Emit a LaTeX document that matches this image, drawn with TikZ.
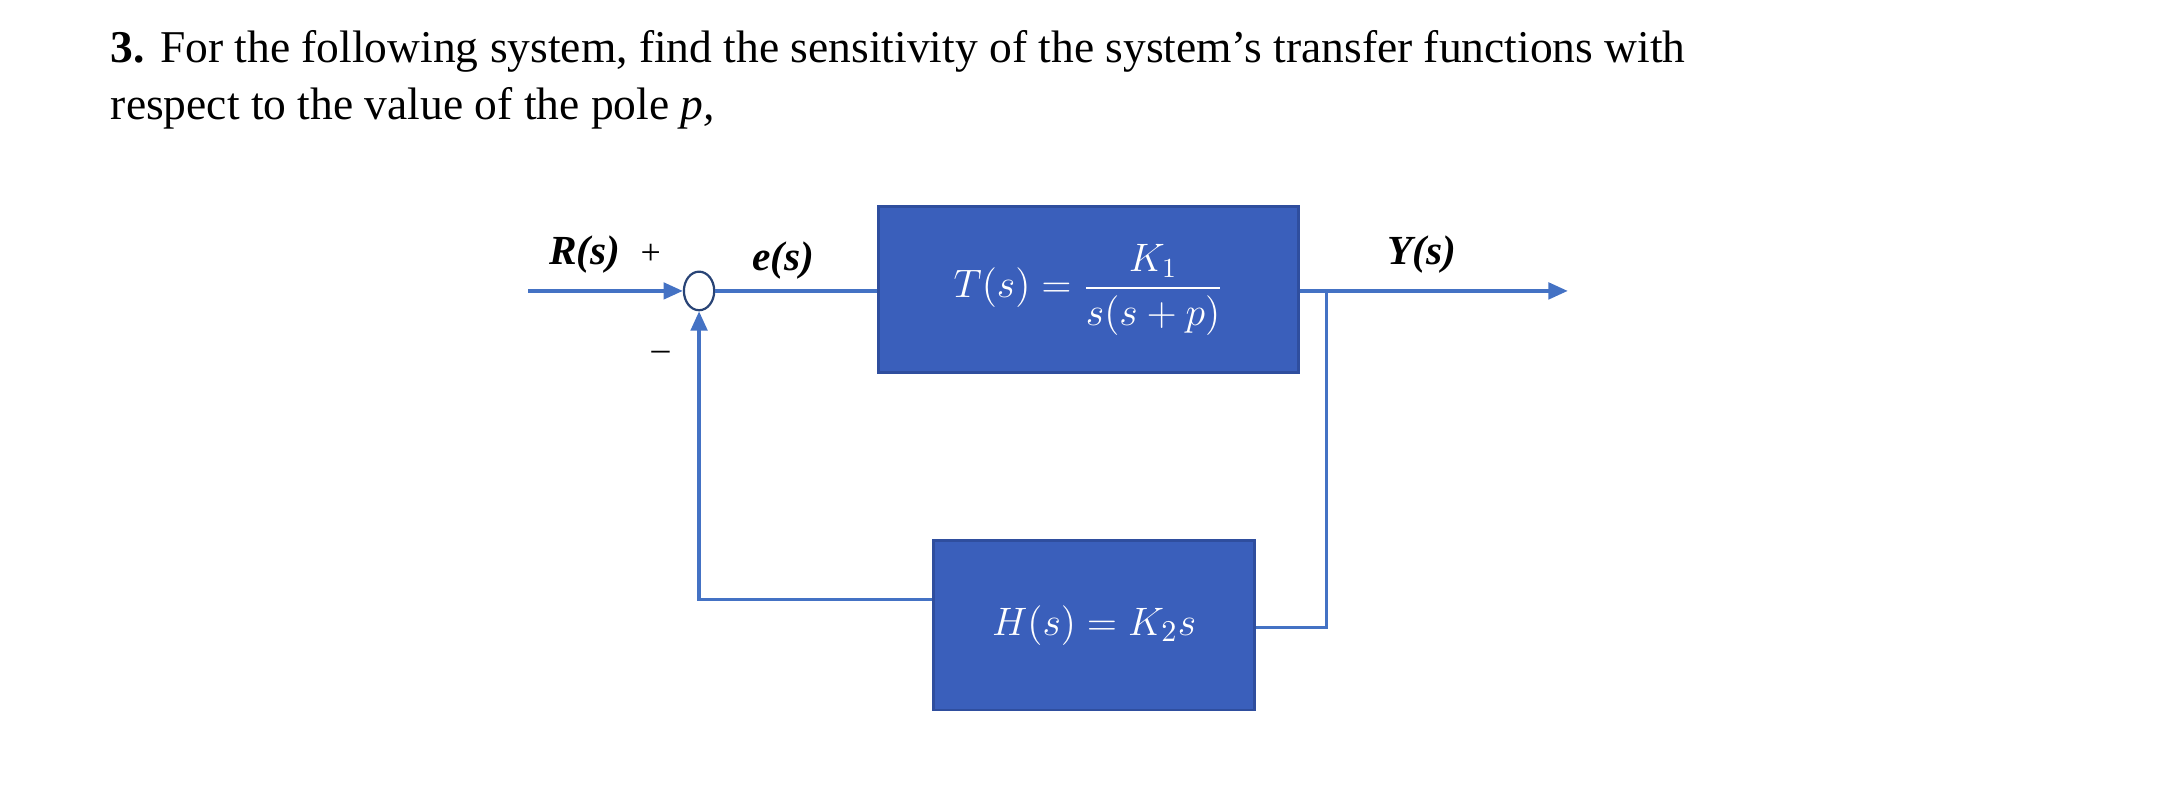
\documentclass[tikz,border=0pt]{standalone}
\usepackage{amsmath}
\usepackage{fontspec}
\setmainfont{Liberation Serif}
\usetikzlibrary{arrows.meta,shapes.geometric}
\definecolor{boxblue}{HTML}{3A5FBB}
\definecolor{boxedge}{HTML}{2F4E9E}
\definecolor{linblue}{HTML}{4472C4}
\tikzset{
  blk/.style={draw=boxedge,fill=boxblue,line width=1pt,text=white,inner sep=0pt},
  wire/.style={draw=linblue,line width=1.2pt},
  arr/.style={wire,-{Triangle[length=7pt,width=6pt]}},
  lbl/.style={font=\fontsize{15}{18}\selectfont\bfseries\itshape,inner sep=0pt},
}
\begin{document}
\begin{tikzpicture}[x=0.5pt,y=-0.5pt]
\useasboundingbox (0,0) rectangle (1568,583);
\node[anchor=base west,inner sep=0pt,font=\fontsize{16.5}{20}\selectfont] (t1) at (80,45) {\textbf{3.} For the following system, find the sensitivity of the system’s transfer functions with};
\node[anchor=base west,inner sep=0pt,font=\fontsize{16.5}{20}\selectfont] (t2) at (80,87) {respect to the value of the pole \textit{p,}};
\node[blk,minimum width=152.5pt,minimum height=60pt] (T) at (789.5,210) {\fontsize{14}{16}\selectfont$T(s)=\dfrac{K_1}{s(s+p)}$};
\node[blk,minimum width=116.5pt,minimum height=61.5pt] (H) at (793.5,453.5) {\fontsize{15}{18}\selectfont$H(s)=K_2s$};
\node[draw=linblue!60!black,line width=0.8pt,ellipse,minimum width=11pt,minimum height=14pt,inner sep=0pt,fill=white] (S) at (507,211) {};
\coordinate (in) at (383,211);
\coordinate (out) at (1137,211);
\coordinate (br) at (962,211);
\draw[arr] (in) -- (S.west);
\draw[wire] (S.east) -- (T.west |- S.east);
\draw[arr] (T.east |- br) -- (out);
\draw[wire] (br) |- (H.east |- 0,455);
\draw[arr] (H.west |- 0,435) -| (S.south);
\node[lbl,anchor=base] (R) at (424,192) {R(s)};
\node[anchor=base,inner sep=0pt,font=\fontsize{13}{15}\selectfont] (plus) at (472,192) {+};
\node[lbl,anchor=base] (E) at (568,196) {e(s)};
\node[lbl,anchor=base] (Y) at (1031,192) {Y(s)};
\node[inner sep=0pt,font=\fontsize{13}{15}\selectfont] (minus) at (479,258) {–};
\end{tikzpicture}
\end{document}
